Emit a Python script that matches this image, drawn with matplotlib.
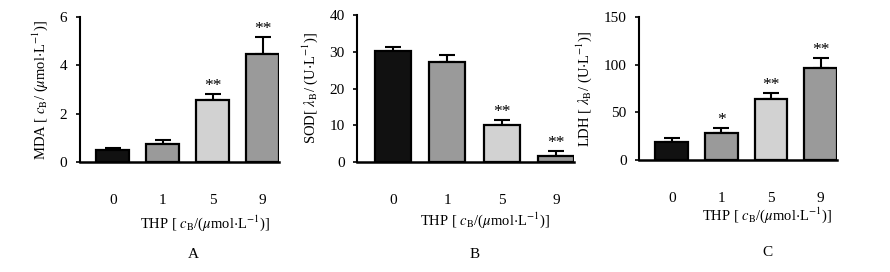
import matplotlib
matplotlib.use("Agg")
import matplotlib.pyplot as plt

plt.rcParams['font.family'] = ['Liberation Serif', 'DejaVu Serif']
plt.rcParams['mathtext.fontset'] = 'stix'

# data
doses = ['0', '1', '5', '9']
colors = ['#111111', '#9a9a9a', '#d2d2d2', '#9a9a9a']

mda = [0.48, 0.76, 2.55, 4.45]
mda_err = [0.1, 0.13, 0.25, 0.72]
mda_sig = ['', '', '**', '**']

sod = [30.2, 27.2, 10.0, 1.7]
sod_err = [1.0, 2.0, 1.5, 1.4]
sod_sig = ['', '', '**', '**']

ldh = [18.5, 28.7, 64.0, 97.0]
ldh_err = [5.0, 4.6, 6.5, 9.5]
ldh_sig = ['', '*', '**', '**']

fig = plt.figure(figsize=(8.9, 2.72), dpi=100)
W, H = 890.0, 272.0

def make_axes(x0, x1, ytop, yzero):
    return fig.add_axes([x0 / W, 1 - yzero / H, (x1 - x0) / W, (yzero - ytop) / H])

panels = [
    (make_axes(80, 279, 17, 162), mda, mda_err, mda_sig, 6, [0, 2, 4, 6],
     r'MDA [ $c_\mathrm{B}$/ ($\mu$mol$\cdot$L$^{-1}$)]', 0.0),
    (make_axes(357, 574, 15, 162), sod, sod_err, sod_sig, 40, [0, 10, 20, 30, 40],
     r'SOD[ $\lambda_\mathrm{B}$/ (U$\cdot$L$^{-1}$)]', 0.0),
    (make_axes(639, 837, 17, 160), ldh, ldh_err, ldh_sig, 150, [0, 50, 100, 150],
     r'LDH [ $\lambda_\mathrm{B}$/ (U$\cdot$L$^{-1}$)]', 0.0),
]

xs = range(len(doses))
for ax, vals, errs, sig, ymax, yticks, ylab, off in panels:
    ax.bar(xs, vals, width=0.66, color=colors, edgecolor='black', linewidth=1.6, zorder=2)
    ax.errorbar(xs, vals, yerr=[[0] * len(errs), errs], fmt='none', ecolor='black',
                elinewidth=1.5, capsize=6, capthick=1.5, zorder=1)
    for x, v, e, s in zip(xs, vals, errs, sig):
        if s:
            ax.text(x, v + e + off, s, ha='center', va='bottom', fontsize=12.5)
    ax.set_xlim(-0.66, 3.33)
    ax.set_ylim(0, ymax)
    ax.set_yticks(yticks)
    ax.set_xticks(list(xs))
    ax.set_xticklabels(doses)
    ax.spines['top'].set_visible(False)
    ax.spines['right'].set_visible(False)
    ax.spines['left'].set_linewidth(1.5)
    ax.spines['bottom'].set_linewidth(1.8)
    ax.tick_params(axis='x', length=0, pad=23, labelsize=11)
    ax.tick_params(axis='y', length=3, width=1.2, direction='out', pad=6, labelsize=11)
    ax.set_ylabel(ylab, fontsize=10.5, labelpad=7)

xlab = r'THP [ $c_\mathrm{B}$/($\mu$mol$\cdot$L$^{-1}$)]'
fig.text(205 / W, 1 - 223 / H, xlab, ha='center', va='center', fontsize=10.5)
fig.text(485 / W, 1 - 220 / H, xlab, ha='center', va='center', fontsize=10.5)
fig.text(767 / W, 1 - 215 / H, xlab, ha='center', va='center', fontsize=10.5)

fig.text(193 / W, 1 - 255 / H, 'A', ha='center', va='center', fontsize=11)
fig.text(475 / W, 1 - 255 / H, 'B', ha='center', va='center', fontsize=11)
fig.text(767 / W, 1 - 253 / H, 'C', ha='center', va='center', fontsize=11)

fig.savefig('out.png', dpi=100)
